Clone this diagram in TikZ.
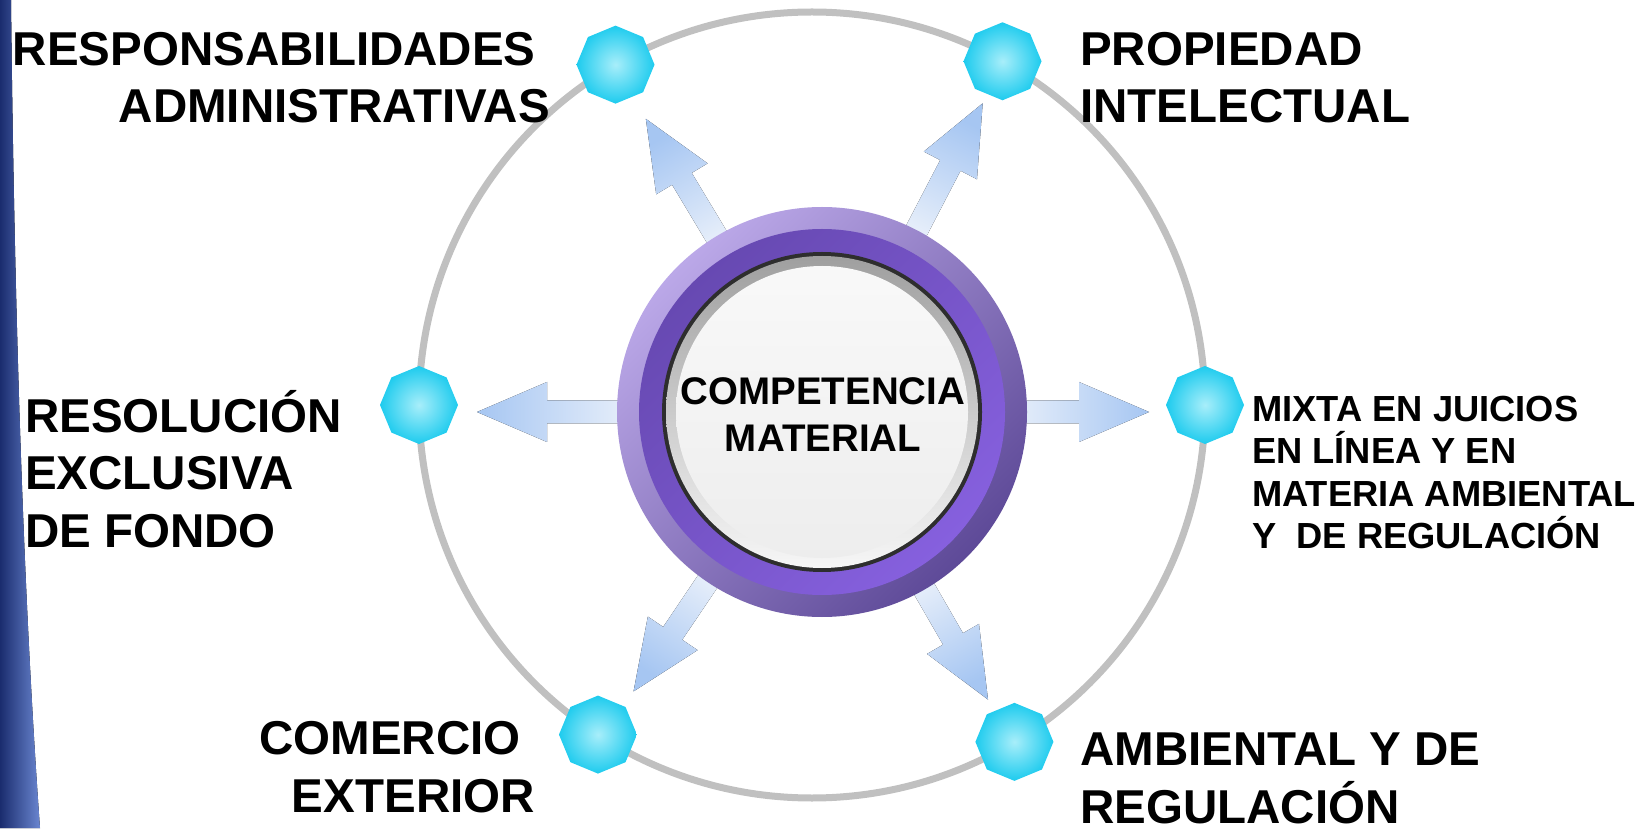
\documentclass[tikz,border=0pt]{standalone}
\usepackage{fontspec}
\setmainfont{Liberation Sans}
\usetikzlibrary{calc,shapes.geometric}

\definecolor{ringgrey}{HTML}{C0C0C0}
\definecolor{octcyan}{HTML}{1DCBEE}
\definecolor{octlight}{HTML}{A8EEFA}
\definecolor{spokeblue}{HTML}{A6C6F2}
\definecolor{spokepale}{HTML}{EEF3FB}
\definecolor{hubdark}{HTML}{5E4A98}
\definecolor{hublight}{HTML}{BBA8E8}
\definecolor{hubmid}{HTML}{6749B2}
\definecolor{hubbright}{HTML}{8660DE}
\definecolor{hubrim}{HTML}{2E2E2E}
\definecolor{stripdark}{HTML}{1A2C6E}
\definecolor{stripblue}{HTML}{6A86D0}

% block arrow leaving the hub: direction, tip radius
\newcommand{\spoke}[2]{%
  \pgfmathsetmacro\spokeshade{#1-90}
  \fill[spoke, shading angle=\spokeshade]
    ($(hub)+(#1:175)+(#1+90:11.5)$) -- ($(hub)+(#1:#2-70)+(#1+90:11.5)$)
    -- ($(hub)+(#1:#2-70)+(#1+90:30)$) -- ($(hub)+(#1:#2)$)
    -- ($(hub)+(#1:#2-70)+(#1-90:30)$) -- ($(hub)+(#1:#2-70)+(#1-90:11.5)$)
    -- ($(hub)+(#1:175)+(#1-90:11.5)$) -- cycle;}

\begin{document}
\begin{tikzpicture}[x=1pt, y=1pt,
	bigtext/.style={font=\fontsize{47.5}{57.5}\selectfont\bfseries, inner sep=0pt},
	smalltext/.style={font=\fontsize{36.3}{42}\selectfont\bfseries, inner sep=0pt},
	octa/.style={regular polygon, regular polygon sides=8, shape border rotate=22.5,
		minimum size=78, inner sep=0pt, inner color=octlight, outer color=octcyan},
	spoke/.style={top color=spokeblue, bottom color=spokepale}]

	\useasboundingbox (0,0) rectangle (1645,828);

	% strip at the left edge
	\fill[left color=stripdark, right color=stripblue] (0,0) -- (40,0)
		.. controls (22,250) and (14,550) .. (11,828) -- (0,828) -- cycle;

	\node[circle, draw=ringgrey, line width=7, minimum size=786, outer sep=0pt] (ring) at (812,423) {};

	\coordinate (hub) at (822,416);
	\spoke{121}{342}
	\spoke{62.5}{348}
	\spoke{180}{345}
	\spoke{0}{327}
	\spoke{-124}{337}
	\spoke{-60}{332}

	% the hub
	\node[circle, minimum size=410, inner sep=0pt, top color=hublight, bottom color=hubdark,
		shading angle=45] (disk) at (hub) {};
	\shade[top color=hubmid, bottom color=hubbright, shading angle=45] (hub) circle (183);
	\fill[hubrim] (hub) circle (160);
	\shade[top color=gray!75!white, bottom color=white!93!gray] (hub) circle (156);
	\shade[top color=white!95!gray, middle color=white!75!gray, bottom color=white!86!gray] (hub) circle (146);
	\node[font=\fontsize{38.5}{47}\selectfont\bfseries, align=center, inner sep=0pt] (hubtext) at (823,413) {COMPETENCIA\\MATERIAL};

	\node[octa] (oTL) at (ring.120) {};
	\node[octa] (oTR) at (ring.61) {};
	\node[octa] (oL) at (ring.180) {};
	\node[octa] (oR) at (ring.0) {};
	\node[octa] (oBL) at (ring.-123) {};
	\node[octa] (oBR) at (ring.-59) {};

	% anchors sit on the last line
	\node[bigtext, anchor=base east, align=right] (tTL) at (550,705) {RESPONSABILIDADES\kern.3em\\ADMINISTRATIVAS};
	\node[bigtext, anchor=base west, align=left] (tTR) at (1080,705) {PROPIEDAD\\INTELECTUAL};
	\node[bigtext, anchor=base west, align=left] (tL) at (25,281) {RESOLUCIÓN\\EXCLUSIVA\\DE FONDO};
	\node[smalltext, anchor=base west, align=left] (tR) at (1252,280) {MIXTA EN JUICIOS\\EN LÍNEA Y EN\\MATERIA AMBIENTAL\\Y\ \ DE REGULACIÓN};
	\node[bigtext, anchor=base east, align=right] (tBL) at (535,16) {COMERCIO\kern.3em\\EXTERIOR};
	\node[bigtext, anchor=base west, align=left] (tBR) at (1080,5) {AMBIENTAL Y DE\\REGULACIÓN};

\end{tikzpicture}
\end{document}
